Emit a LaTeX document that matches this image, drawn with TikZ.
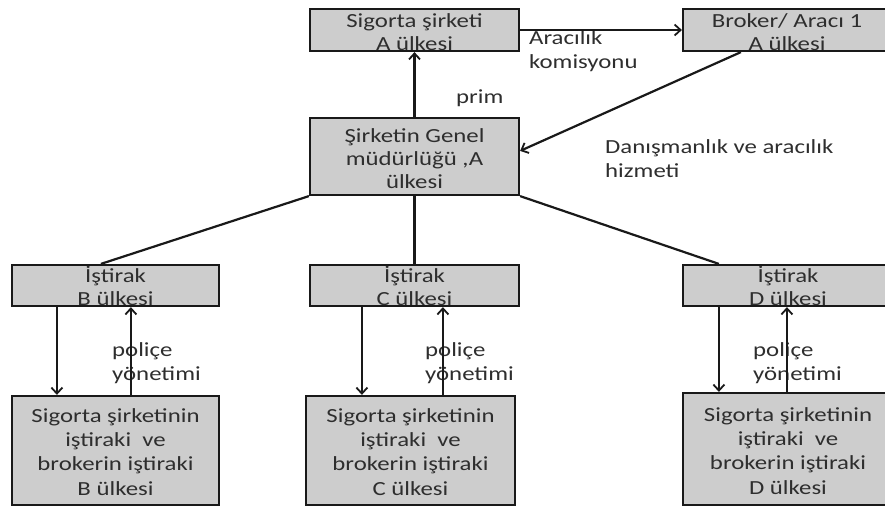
\documentclass[tikz,border=0pt]{standalone}
\usepackage{fontspec}
\setmainfont{Carlito}[FakeStretch=1.24]
\usetikzlibrary{arrows.meta,calc}
\definecolor{boxgray}{HTML}{CDCDCD}
\definecolor{inkgray}{HTML}{2E2E2E}
\begin{document}
\begin{tikzpicture}[x=1pt,y=-1pt,
  box/.style={draw=black!90, line width=2.2pt, fill=boxgray, inner sep=0pt},
  boxtext/.style={font=\fontsize{20}{23}\selectfont, text=inkgray, align=center, inner sep=0pt, anchor=base},
  bigtext/.style={boxtext, font=\fontsize{20}{24.3}\selectfont},
  lbl/.style={font=\fontsize{20}{24}\selectfont, text=inkgray, align=left, inner sep=0pt, anchor=base west},
  flow/.style={line width=2.2pt, draw=black!90, -{Straight Barb[length=6pt,width=11pt,line width=1.8pt]}},
  link/.style={line width=2.2pt, draw=black!90}
]
\useasboundingbox (0,0) rectangle (885,507);
\clip (0,0) rectangle (885,507);

% boxes, top row
\node[box, minimum width=209pt, minimum height=42pt] (sA) at (414.5,30) {};
\node[box, minimum width=210pt, minimum height=42pt] (broker) at (788,30) {};
% head office
\node[box, minimum width=209pt, minimum height=77pt] (hq) at (414.5,156.5) {};
% subsidiaries
\node[box, minimum width=207pt, minimum height=41pt] (iB) at (115.5,285.5) {};
\node[box, minimum width=209pt, minimum height=41pt] (iC) at (414.5,285.5) {};
\node[box, minimum width=210pt, minimum height=41pt] (iD) at (788,285.5) {};
% local companies
\node[box, minimum width=207pt, minimum height=109pt] (sB) at (115.5,450.5) {};
\node[box, minimum width=209pt, minimum height=109pt] (sC) at (410.5,450.5) {};
\node[box, minimum width=210pt, minimum height=112pt] (sD) at (788,449) {};

% box texts (anchored at the baseline of their last line)
\node[boxtext] (tsA) at (414.5,50) {Sigorta şirketi\\A ülkesi};
\node[boxtext] (tbroker) at (787,50) {Broker/ Aracı 1\\A ülkesi};
\node[boxtext] (thq) at (414.5,188) {Şirketin Genel\\müdürlüğü ,A\\ülkesi};
\node[boxtext] (tiB) at (115.5,305) {İştirak\\B ülkesi};
\node[boxtext] (tiC) at (414.5,305) {İştirak\\C ülkesi};
\node[boxtext] (tiD) at (788,305) {İştirak\\D ülkesi};
\node[bigtext] (tsB) at (115.5,495) {Sigorta şirketinin\\iştiraki\ \ ve\\brokerin iştiraki\\B ülkesi};
\node[bigtext] (tsC) at (410.5,495) {Sigorta şirketinin\\iştiraki\ \ ve\\brokerin iştiraki\\C ülkesi};
\node[bigtext] (tsD) at (788,494) {Sigorta şirketinin\\iştiraki\ \ ve\\brokerin iştiraki\\D ülkesi};

% flow labels
\node[lbl] (lkom) at (529,68) {Aracılık\\komisyonu};
\node[lbl] (lprim) at (456,103) {prim};
\node[lbl] (ldan) at (605,177) {Danışmanlık ve aracılık\\hizmeti};
\node[lbl] (lpB) at (112,380) {poliçe\\yönetimi};
\node[lbl] (lpC) at (425,380) {poliçe\\yönetimi};
\node[lbl] (lpD) at (753,380) {poliçe\\yönetimi};

% connectors between the top boxes
\draw[flow] (sA.east) -- (broker.west);
\draw[flow] (hq.north) -- (sA.south);
\coordinate (bkout) at ($(broker.south west)+(59,0)$);
\coordinate (hqin) at ($(hq.north east)+(0,34)$);
\draw[flow] (bkout) -- (hqin);

% head office to subsidiaries
\draw[link] (hq.south west) -- ($(iB.north west)+(90,0)$);
\draw[link] (hq.south) -- (iC.north);
\draw[link] (hq.south east) -- ($(iD.north west)+(37,0)$);

% subsidiaries and local companies
\draw[flow] ($(iB.south west)+(46,0)$) -- ($(sB.north west)+(46,0)$);
\draw[flow] ($(sB.north west)+(120,0)$) -- ($(iB.south west)+(120,0)$);
\draw[flow] ($(iC.south west)+(53,0)$) -- ($(sC.north west)+(57,0)$);
\draw[flow] ($(sC.north west)+(138,0)$) -- ($(iC.south west)+(134,0)$);
\draw[flow] ($(iD.south west)+(37,0)$) -- ($(sD.north west)+(37,0)$);
\draw[flow] ($(sD.north west)+(105,0)$) -- ($(iD.south west)+(105,0)$);
\end{tikzpicture}
\end{document}
